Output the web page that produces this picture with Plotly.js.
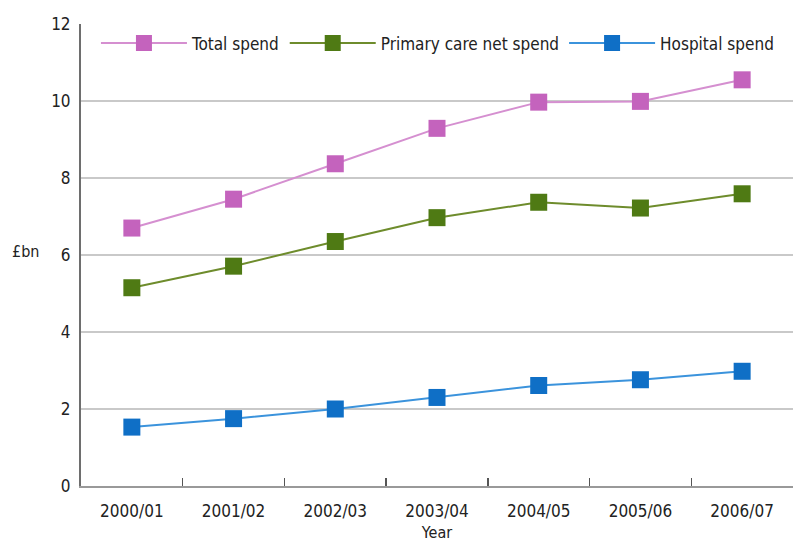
<!DOCTYPE html>
<html>
<head>
<meta charset="utf-8">
<script src="https://cdn.plot.ly/plotly-3.0.1.min.js"></script>
<style>html,body{margin:0;padding:0;background:#fff;}#chart{width:796px;height:542px;}</style>
</head>
<body>
<div id="chart"></div>
<script>
const years = ["2000/01","2001/02","2002/03","2003/04","2004/05","2005/06","2006/07"];
const totalSpend = [6.70, 7.45, 8.37, 9.29, 9.97, 9.99, 10.55];
const primaryCareNetSpend = [5.15, 5.71, 6.35, 6.97, 7.37, 7.22, 7.59];
const hospitalSpend = [1.53, 1.75, 2.00, 2.30, 2.61, 2.76, 2.98];
const seriesNames = ["Total spend", "Primary care net spend", "Hospital spend"];

const FONT = '"DejaVu Sans Condensed", "Liberation Sans Narrow", Arial, sans-serif';

function tr(name, y, lineColor, markerColor) {
  return {
    type: 'scatter', mode: 'lines+markers', name: name, x: years, y: y,
    line: {color: lineColor, width: 2},
    marker: {symbol: 'square', size: 17, color: markerColor, line: {width: 0}}
  };
}

const data = [
  tr(seriesNames[0], totalSpend, '#d58fd0', '#c463bd'),
  tr(seriesNames[1], primaryCareNetSpend, '#6e8c2c', '#4f7a14'),
  tr(seriesNames[2], hospitalSpend, '#3b93dc', '#0f6fc6')
];

const layout = {
  width: 796, height: 542,
  margin: {l: 81, r: 3, t: 24, b: 56},
  paper_bgcolor: '#fff', plot_bgcolor: '#fff',
  font: {family: FONT, size: 16, color: '#222'},
  showlegend: true,
  legend: {orientation: 'h', x: 0.021, y: 0.997,
           xanchor: 'left', yanchor: 'top',
           itemwidth: 86, bgcolor: 'rgba(255,255,255,0)',
           font: {family: FONT, size: 17, color: '#222'}, traceorder: 'normal'},
  xaxis: {
    type: 'category', range: [-0.5, 6.5], tickson: 'boundaries', ticks: 'inside', ticklen: 8,
    tickcolor: '#555', tickwidth: 1.5, showline: true, linecolor: '#999', linewidth: 1.5,
    showgrid: false, zeroline: false, tickfont: {family: FONT, size: 17, color: '#222'},
    ticklabelstandoff: 9,
    title: {text: 'Year', font: {family: FONT, size: 16, color: '#222'}, standoff: 12}
  },
  yaxis: {
    range: [0, 12], dtick: 2, showgrid: true, gridcolor: '#c9c9c9', gridwidth: 1.5,
    showline: true, linecolor: '#6e6e6e', linewidth: 2, zeroline: false,
    ticks: '', tickfont: {family: FONT, size: 17, color: '#222'}, ticklabelstandoff: 5
  },
  annotations: [{
    text: '£bn', xref: 'paper', yref: 'y', x: -0.056, y: 6.1, xanchor: 'right', yanchor: 'middle',
    showarrow: false, font: {family: FONT, size: 16, color: '#222'}
  }]
};

Plotly.newPlot('chart', data, layout, {displayModeBar: false, staticPlot: true});
</script>
</body>
</html>
